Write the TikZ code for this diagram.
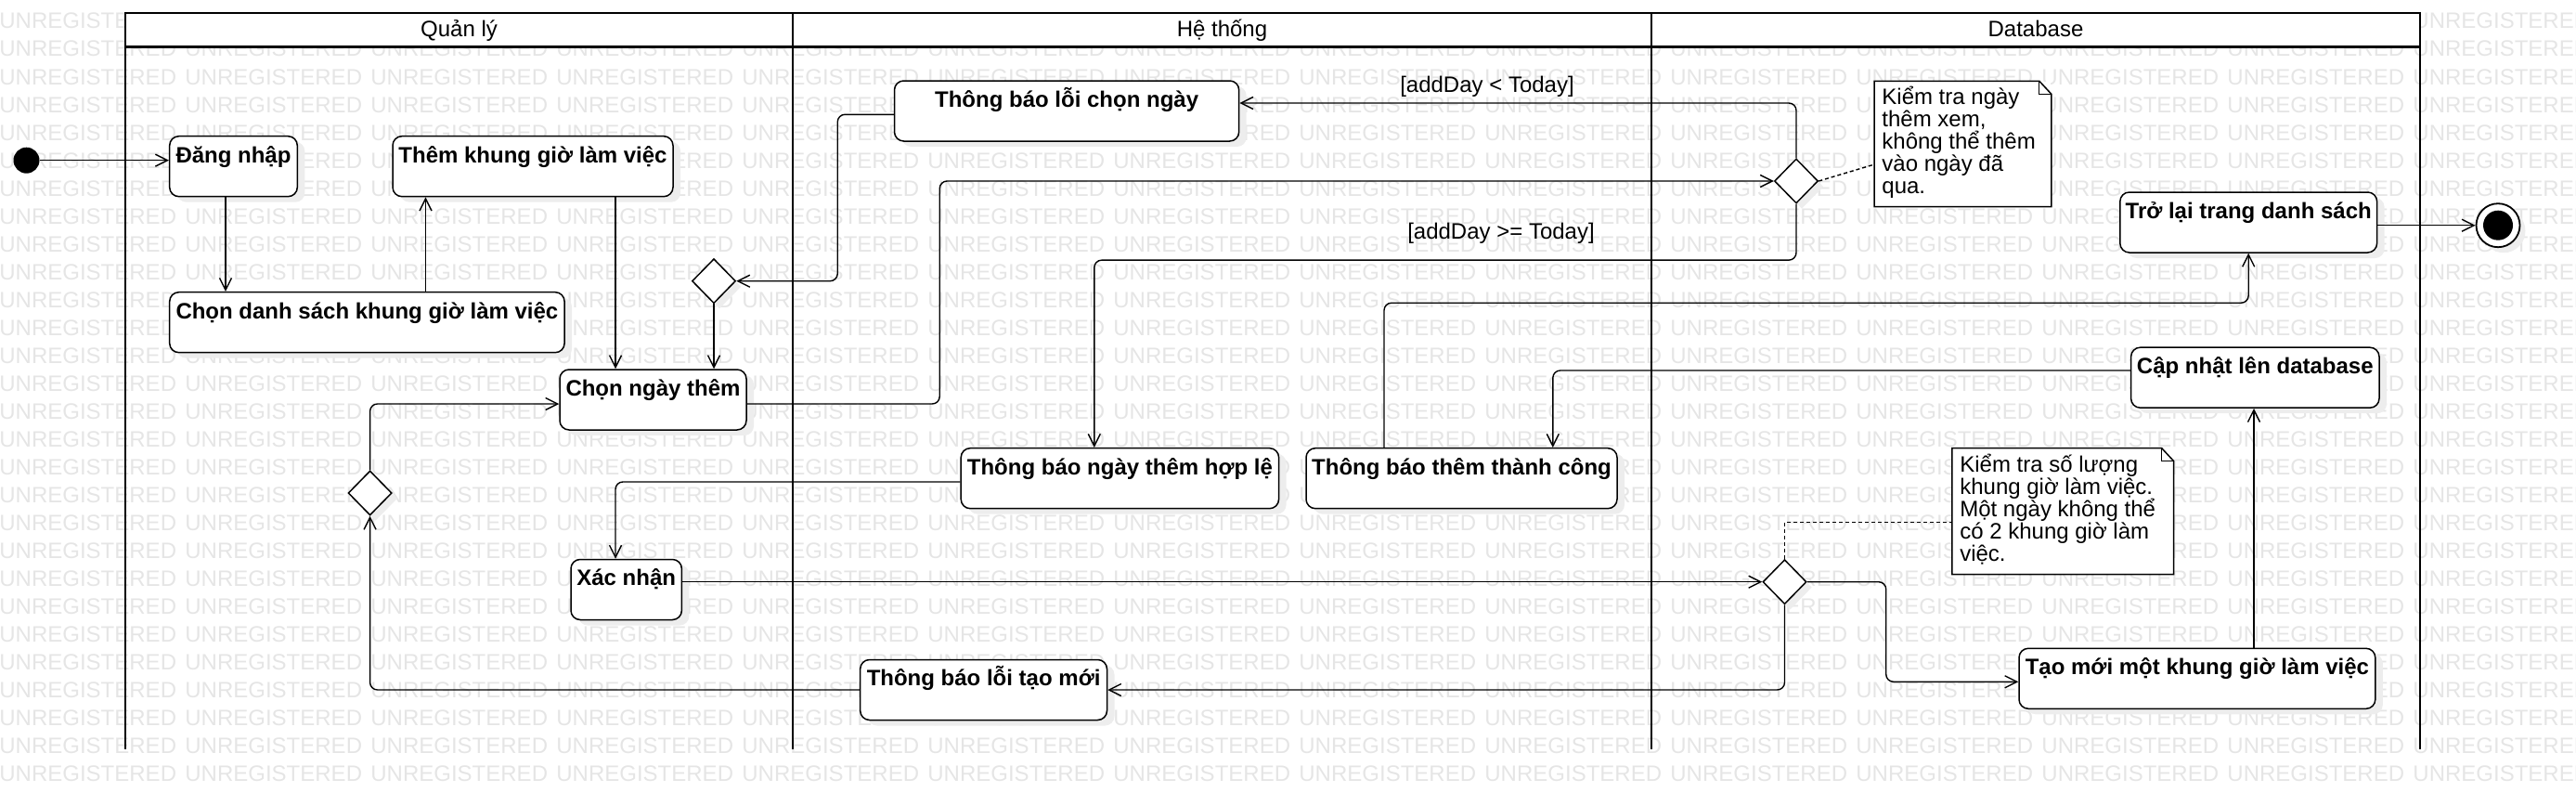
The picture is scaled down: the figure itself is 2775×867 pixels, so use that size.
\documentclass[tikz,border=0pt]{standalone}
\usepackage{fontspec}
\setmainfont{Liberation Sans}
\usetikzlibrary{arrows.meta,shapes.geometric,shadows}

\begin{document}
\begin{tikzpicture}[x=0.5pt,y=-0.5pt,font=\fontsize{12}{14}\selectfont,
  act/.style={draw, fill=white, rounded corners=5pt, line width=0.75pt,
    minimum height=32.5pt, inner xsep=0pt, inner ysep=0pt,
    text height=14.2pt, text depth=18.3pt,
    font=\fontsize{12}{14}\selectfont\bfseries,
    drop shadow={shadow xshift=4pt,shadow yshift=-3pt,fill=black!7,opacity=1}},
  decision/.style={diamond, draw, fill=white, aspect=1, line width=0.75pt,
    minimum width=23.5pt, minimum height=24pt, inner sep=0pt,
    drop shadow={shadow xshift=3pt,shadow yshift=-3pt,fill=black!7,opacity=1}},
  flow/.style={line width=0.7pt, rounded corners=4pt,
    -{Straight Barb[length=6.5pt,width=6.5pt]}},
  link/.style={line width=0.7pt, dash pattern=on 2pt off 1.5pt},
  notebox/.style={fill=white, inner sep=0pt, anchor=north west},
  notetext/.style={inner sep=0pt, anchor=base west},
  lane/.style={line width=1.3pt},
  wmark/.style={text=black!10, inner sep=0pt, anchor=base west}]
\useasboundingbox (0,0) rectangle (2775,867);

% watermark
\foreach \r in {0,...,27}
  \foreach \c in {0,...,13}
    \node[wmark] at (\c*200-1,31+\r*30) {UNREGISTERED};

% swimlanes
\draw [lane, fill=white] (135,14) rectangle (2607,50.7);
\draw [lane] (135,14) -- (135,806.7);
\draw [lane] (854,14) -- (854,806.7);
\draw [lane] (1779,14) -- (1779,806.7);
\draw [lane] (2607,14) -- (2607,806.7);
\node (lql) [anchor=base] at (494.5,39.5) {Quản lý};
\node (lht) [anchor=base] at (1316.5,39.5) {Hệ thống};
\node (ldb) [anchor=base] at (2193,39.5) {Database};

% activities
\node (start) [circle, fill, minimum size=14pt, inner sep=0pt] at (28.5,172.7) {};
\node (dangnhap) [act, minimum width=68.8pt] at (251.5,179.2) {Đăng nhập};
\node (themkhung) [act, minimum width=151pt] at (574,179.2) {Thêm khung giờ làm việc};
\node (chonds) [act, minimum width=212.7pt] at (395.4,347.2) {Chọn danh sách khung giờ làm việc};
\node (chonngay) [act, minimum width=100.5pt] at (703.5,430.5) {Chọn ngày thêm};
\node (xacnhan) [act, minimum width=59.7pt] at (674.7,635) {Xác nhận};
\node (loichon) [act, minimum width=185.6pt] at (1149.1,119.5) {Thông báo lỗi chọn ngày};
\node (hople) [act, minimum width=171.2pt] at (1206.4,515.2) {Thông báo ngày thêm hợp lệ};
\node (thanhcong) [act, minimum width=167.5pt] at (1574.5,515.2) {Thông báo thêm thành công};
\node (loitao) [act, minimum width=132.9pt] at (1059.6,743) {Thông báo lỗi tạo mới};
\node (trolai) [act, minimum width=138.4pt] at (2422.2,239.5) {Trở lại trang danh sách};
\node (capnhat) [act, minimum width=133.7pt] at (2429.3,406.7) {Cập nhật lên database};
\node (taomoi) [act, minimum width=191.9pt] at (2366.9,730.8) {Tạo mới một khung giờ làm việc};
\node (fin) [circle, draw, fill=white, line width=0.9pt, minimum size=23.5pt, inner sep=0pt,
  drop shadow={shadow xshift=3pt,shadow yshift=-3pt,fill=black!7,opacity=1}] at (2691,242.7) {};
\node (finin) [circle, fill, minimum size=16pt, inner sep=0pt] at (fin) {};

\node (m1) [decision] at (769,302.7) {};
\node (d2) [decision] at (1935,195) {};
\node (d3) [decision] at (1922.5,626.7) {};
\node (d4) [decision] at (398.6,531) {};

% notes
\node (note1) [notebox, minimum width=95pt, minimum height=67.2pt] at (2019,87.3) {};
\draw [line width=0.75pt] (note1.south west) -- (note1.north west) -- ([xshift=-6.5pt]note1.north east)
  -- ([yshift=-7pt]note1.north east) -- (note1.south east) -- cycle;
\draw [line width=0.5pt] ([xshift=-6.5pt]note1.north east) |- ([yshift=-7pt]note1.north east);
\node (txt1) [notetext] at ([xshift=4pt,yshift=-12.7pt]note1.north west)
  {\parbox[t]{90pt}{\fontsize{12}{12}\selectfont\lineskiplimit=-10pt
   Kiểm tra ngày\\thêm xem,\\không thể thêm\\vào ngày đã\\qua.}};

\node (note2) [notebox, minimum width=119pt, minimum height=67.5pt] at (2102.9,482.7) {};
\draw [line width=0.75pt] (note2.south west) -- (note2.north west) -- ([xshift=-6.5pt]note2.north east)
  -- ([yshift=-7pt]note2.north east) -- (note2.south east) -- cycle;
\draw [line width=0.5pt] ([xshift=-6.5pt]note2.north east) |- ([yshift=-7pt]note2.north east);
\node (txt2) [notetext] at ([xshift=4pt,yshift=-12.65pt]note2.north west)
  {\parbox[t]{112pt}{\fontsize{12}{12}\selectfont\lineskiplimit=-10pt
   Kiểm tra số lượng\\khung giờ làm việc.\\Một ngày không thể\\có 2 khung giờ làm\\việc.}};

% guards
\node (g1) [anchor=base] at (1602,99) {[addDay < Today]};
\node (g2) [anchor=base] at (1617,257.3) {[addDay >= Today]};

% flows
\draw [flow] (start.east) -- (dangnhap.west |- start);
\draw [flow] ([xshift=-4.25pt]dangnhap.south) -- ([xshift=-4.25pt]dangnhap.south |- chonds.north);
\draw [flow] ([xshift=31.55pt]chonds.north) -- ([xshift=31.55pt]chonds.north |- themkhung.south);
\draw [flow] ([xshift=44.5pt]themkhung.south) -- ([xshift=44.5pt]themkhung.south |- chonngay.north);
\draw [flow] (m1.south) -- (m1.south |- chonngay.north);
\draw [flow] ([yshift=-1.9pt]loichon.west) -- ++(-60.5,0) |- (m1.east);
\draw [flow] (d2.north) |- ([yshift=4.25pt]loichon.east);
\draw [flow] ([yshift=-2.25pt]chonngay.east) -- ++(207.5,0) |- (d2.west);
\draw [flow] (d2.south) -- ++(0,60.4) -| ([xshift=-13.8pt]hople.north);
\draw [flow] ([yshift=-1.9pt]hople.west) -| ([xshift=-5.85pt]xacnhan.north);
\draw [flow] (xacnhan.east |- d3.west) -- (d3.west);
\draw [flow] (d3.east) -- ++(85,0) |- ([yshift=-1.75pt]taomoi.west);
\draw [flow] (d3.south) |- (loitao.east);
\draw [flow] (loitao.west) -| (d4.south);
\draw [flow] (d4.north) |- ([yshift=-2.25pt]chonngay.west);
\draw [flow] ([xshift=30.55pt]taomoi.north) -- ([xshift=30.55pt]taomoi.north |- capnhat.south);
\draw [flow] ([yshift=3.85pt]capnhat.west) -| ([xshift=49.15pt]thanhcong.north);
\draw [flow] ([xshift=-41.75pt]thanhcong.north) -- ++(0,-155.7) -| (trolai.south);
\draw [flow] (trolai.east |- fin) -- (fin.west);

% note links
\draw [link] (d2.east) -- ([yshift=-11.1pt]note1.west);
\draw [link] (d3.north) |- ([yshift=-6.05pt]note2.west);
\end{tikzpicture}
\end{document}
